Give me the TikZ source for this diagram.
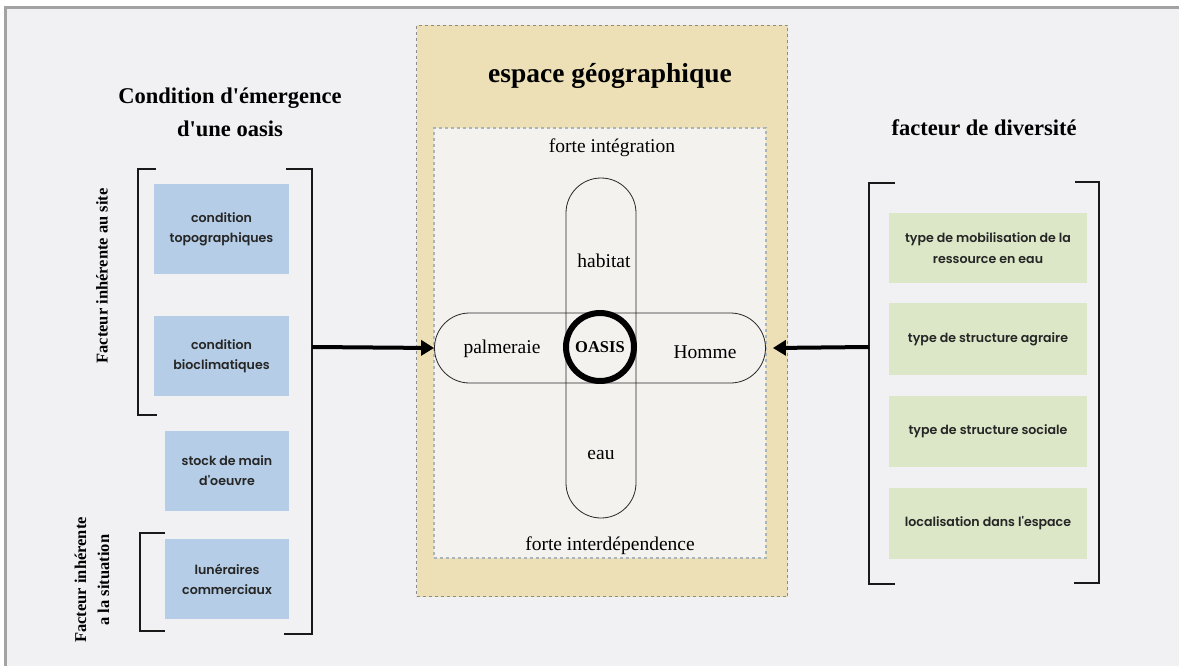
\documentclass[tikz,border=0pt]{standalone}
\usepackage{fontspec}
\setmainfont{Liberation Serif}
\newfontfamily\boxfont{Poppins SemiBold}
\usetikzlibrary{arrows.meta,shapes.misc}
\definecolor{bgcol}{HTML}{F1F1F3}
\definecolor{framecol}{HTML}{A3A3A3}
\definecolor{bluebox}{HTML}{B5CDE6}
\definecolor{greenbox}{HTML}{DCE7C7}
\definecolor{yellowbox}{HTML}{EDE0B7}
\definecolor{innerfill}{HTML}{F4F2EF}
\definecolor{innerline}{HTML}{A9B5B9}
\definecolor{outerdash}{HTML}{8C8C8C}
\tikzset{
  bluenode/.style={fill=bluebox, inner sep=0pt, align=center, font=\boxfont\fontsize{12.6}{20}\selectfont, text=black!85},
  greennode/.style={fill=greenbox, inner sep=0pt, align=center, font=\boxfont\fontsize{12.6}{21}\selectfont, text=black!85, minimum width=198, minimum height=71},
  titletext/.style={font=\bfseries\fontsize{22.5}{33}\selectfont, align=center},
  pilltext/.style={font=\fontsize{19.5}{22}\selectfont},
  sidetext/.style={font=\bfseries\fontsize{16.5}{23}\selectfont, align=center, rotate=90},
  bracketline/.style={line width=2.4pt, black!90},
  pill/.style={rounded rectangle, draw=black!85, line width=0.8pt, inner sep=0pt},
  bigarrow/.style={line width=4pt, -{Triangle[length=13pt,width=15pt]}},
}
\begin{document}
\begin{tikzpicture}[x=1pt,y=-1pt]
\useasboundingbox (0,0) rectangle (1179,666);
\fill[white] (0,0) rectangle (1179,666);
\fill[bgcol] (5,8) rectangle (1179,666);
\draw[framecol, line width=3pt] (5,666) -- (5,8) -- (1179,8);

% central space
\node[draw=outerdash, dashed, line width=1.5pt, fill=yellowbox, minimum width=371, minimum height=571, inner sep=0pt] (espace) at (602,311) {};
\node[font=\bfseries\fontsize{27.5}{30}\selectfont] (espacetitle) at (610,76) {espace géographique};
\node[draw=innerline, dashed, line width=1.3pt, fill=innerfill, minimum width=332, minimum height=430, inner sep=0pt] (inner) at (600,343) {};
\node[pilltext] (integ) at (612,148) {forte intégration};
\node[pilltext] (interd) at (610,546) {forte interdépendence};

\node[pill, minimum width=331, minimum height=70] (hpill) at (600,348) {};
\node[pill, rotate=90, minimum width=340, minimum height=70] (vpill) at (601,348) {};
\node[draw=black, line width=6pt, circle, minimum size=68, inner sep=0pt, font=\bfseries\fontsize{16.5}{18}\selectfont] (oasis) at (600,347) {OASIS};
\node[pilltext] (habitat) at (604,261) {habitat};
\node[pilltext] (eau) at (601,455) {eau};
\node[pilltext] (palm) at (502,349) {palmeraie};
\node[pilltext] (homme) at (705,352) {Homme};

% left
\node[titletext] (lefttitle) at (230,112) {Condition d\textquotesingle émergence\\d\textquotesingle une oasis};
\node[bluenode, minimum width=135, minimum height=90] (b1) at (221.5,229) {condition\\topographiques};
\node[bluenode, minimum width=135, minimum height=80] (b2) at (221.5,356) {condition\\bioclimatiques};
\node[bluenode, minimum width=124, minimum height=80] (b3) at (227,471) {stock de main\\d\textquotesingle oeuvre};
\node[bluenode, minimum width=124, minimum height=80] (b4) at (227,579) {lunéraires\\commerciaux};
\draw[bracketline] (156,169) -- (138,169) -- (138,415) -- (157,415);
\draw[bracketline] (165,533) -- (140,533) -- (140,631) -- (165,631);
\draw[bracketline] (286,169) -- (312,169) -- (312,634) -- (284,634);
\node[sidetext] (site) at (102,276) {Facteur inhérente au site};
\node[sidetext] (situ) at (92,580) {Facteur inhérente\\a la situation};
\coordinate (lbr) at (312,347);
\draw[bigarrow] (lbr) -- (hpill.west);

% right
\node[titletext] (righttitle) at (984,128) {facteur de diversité};
\node[greennode, minimum height=70] (g1) at (988,248) {type de mobilisation de la\\ressource en eau};
\node[greennode, minimum height=72] (g2) at (988,339) {type de structure agraire};
\node[greennode] (g3) at (988,431.5) {type de structure sociale};
\node[greennode] (g4) at (988,523.5) {localisation dans l\textquotesingle espace};
\draw[bracketline] (895,183) -- (869,183) -- (869,584) -- (895,584);
\draw[bracketline] (1075,182) -- (1099,182) -- (1099,583) -- (1074,583);
\coordinate (rbr) at (869,347);
\draw[bigarrow] (rbr) -- ([xshift=7pt]hpill.east);
\end{tikzpicture}
\end{document}
